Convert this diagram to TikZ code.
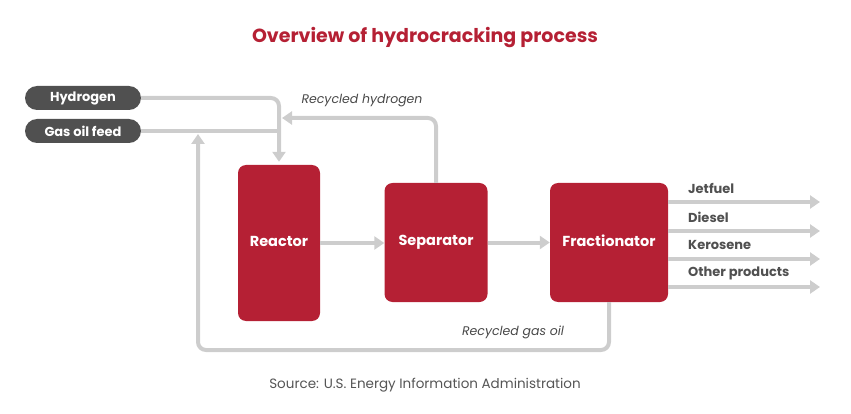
\documentclass[tikz,border=0pt]{standalone}
\usepackage{fontspec}
\setmainfont{Poppins}
\usetikzlibrary{arrows.meta}
\definecolor{eiared}{RGB}{181,32,52}
\definecolor{eiadark}{RGB}{80,80,80}
\definecolor{eiaflow}{RGB}{205,205,205}
\definecolor{eiatext}{RGB}{85,85,85}
\begin{document}
\begin{tikzpicture}[x=1pt,y=-1pt,
    unit/.style={fill=eiared,rounded corners=8pt,text=white,font=\bfseries\fontsize{14.5}{16}\selectfont,inner sep=0pt},
    feed/.style={fill=eiadark,rounded corners=12pt,text=white,font=\bfseries\fontsize{13}{15}\selectfont,
      minimum width=116pt,minimum height=24pt,inner sep=0pt},
    flow/.style={eiaflow,line width=4pt,rounded corners=8pt},
    tip/.style={-{Triangle[length=10pt,width=13pt]}},
    product/.style={font=\bfseries\fontsize{13}{15}\selectfont,text=eiadark,anchor=west,inner sep=0pt},
    note/.style={font=\itshape\fontsize{12.5}{14}\selectfont,text=eiadark!90!black,inner sep=0pt}]
  \useasboundingbox (0,0) rectangle (851,414);
  \node[font=\bfseries\fontsize{19}{22}\selectfont,text=eiared] (title) at (425,38) {Overview of hydrocracking process};
  % feeds
  \node[feed] (hyd) at (83,98) {Hydrogen};
  \node[feed] (gas) at (83,131) {Gas oil feed};
  % process units
  \node[unit,minimum width=82pt,minimum height=156pt] (reactor) at (279,243) {\raisebox{4pt}{Reactor}};
  \node[unit,minimum width=103pt,minimum height=119pt] (sep) at (436,242.5) {\raisebox{3pt}{Separator}};
  \node[unit,minimum width=118pt,minimum height=119pt] (frac) at (609,242.5) {\raisebox{3pt}{Fractionator}};
  % junction points
  \coordinate (rh) at (282,118);
  \coordinate (rg) at (198,134);
  \coordinate (loop) at (198,350);
  \draw[flow,tip,shorten >=3pt] (hyd.east) -| (reactor.north);
  \draw[flow] (gas.east) -- (gas.east -| reactor.north);
  \draw[flow,tip] (sep.north) |- (rh);
  \draw[flow,tip] (reactor.east) -- (reactor.east -| sep.west);
  \draw[flow,tip] (sep.east) -- (sep.east -| frac.west);
  \draw[flow,tip] (frac.south) |- (loop) -- (rg);
  \node[note] (rhlabel) at (362,101) {Recycled hydrogen};
  \node[note] (rglabel) at (513,332) {Recycled gas oil};
  % products
  \foreach \name/\txt/\y in {jet/Jetfuel/202,diesel/Diesel/231,kero/Kerosene/259,other/Other products/287}{
    \coordinate (\name) at (820,\y);
    \draw[flow,tip] (frac.east |- \name) -- (\name);
    \node[product] (\name label) at (688,\y-14) {\txt};}
  \node[font=\fontsize{13.5}{15}\selectfont,text=eiatext] (source) at (425,385) {Source: U.S. Energy Information Administration};
\end{tikzpicture}
\end{document}
